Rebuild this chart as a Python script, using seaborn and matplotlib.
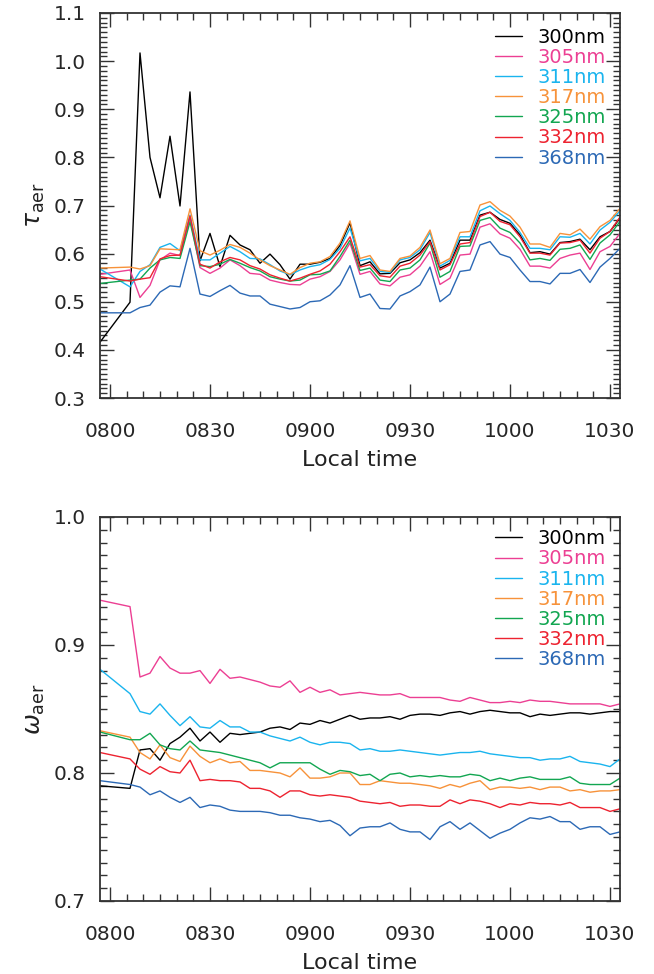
import matplotlib
matplotlib.use("Agg")
import matplotlib.pyplot as plt
import pandas as pd
import seaborn as sns
from matplotlib.ticker import MultipleLocator, FixedLocator, FixedFormatter

# ---------------- data ----------------
times = ["0757", "0806", "0809", "0812", "0815", "0818", "0821", "0824", "0827", "0830",
         "0833", "0836", "0839", "0842", "0845", "0848", "0851", "0854", "0857", "0900",
         "0903", "0906", "0909", "0912", "0915", "0918", "0921", "0924", "0927", "0930",
         "0933", "0936", "0939", "0942", "0945", "0948", "0951", "0954", "0957", "1000",
         "1003", "1006", "1009", "1012", "1015", "1018", "1021", "1024", "1027", "1030",
         "1033"]

wavelengths = ["300nm", "305nm", "311nm", "317nm", "325nm", "332nm", "368nm"]
colors = ["#000000", "#EC3F93", "#1AB4EE", "#F7923A", "#12A651", "#ED2330", "#2C69B5"]

x_tick_labels = ["0800", "0830", "0900", "0930", "1000", "1030"]
tau_tick_labels = ["0.3", "0.4", "0.5", "0.6", "0.7", "0.8", "0.9", "1.0", "1.1"]
omega_tick_labels = ["0.7", "0.8", "0.9", "1.0"]

# aerosol optical depth (top panel)
tau_300 = [0.416, 0.499, 1.017, 0.800, 0.716, 0.844, 0.699, 0.936, 0.585, 0.642, 0.573,
           0.638, 0.618, 0.608, 0.580, 0.599, 0.577, 0.547, 0.578, 0.578, 0.582, 0.590,
           0.617, 0.664, 0.575, 0.583, 0.558, 0.559, 0.581, 0.587, 0.602, 0.628, 0.570,
           0.580, 0.628, 0.628, 0.680, 0.686, 0.671, 0.663, 0.639, 0.602, 0.604, 0.599,
           0.623, 0.625, 0.630, 0.608, 0.635, 0.646, 0.674]
tau_305 = [0.557, 0.566, 0.509, 0.534, 0.587, 0.601, 0.596, 0.674, 0.571, 0.559, 0.570,
           0.587, 0.575, 0.559, 0.557, 0.545, 0.540, 0.536, 0.535, 0.547, 0.552, 0.563,
           0.587, 0.622, 0.557, 0.563, 0.537, 0.533, 0.551, 0.556, 0.574, 0.604, 0.536,
           0.549, 0.597, 0.599, 0.655, 0.662, 0.641, 0.632, 0.609, 0.574, 0.574, 0.570,
           0.590, 0.597, 0.601, 0.567, 0.604, 0.615, 0.642]
tau_311 = [0.568, 0.531, 0.563, 0.577, 0.613, 0.621, 0.606, 0.680, 0.587, 0.587, 0.601,
           0.615, 0.604, 0.590, 0.589, 0.577, 0.564, 0.556, 0.566, 0.573, 0.577, 0.588,
           0.611, 0.653, 0.585, 0.590, 0.563, 0.561, 0.587, 0.592, 0.608, 0.644, 0.574,
           0.586, 0.635, 0.635, 0.689, 0.699, 0.683, 0.669, 0.644, 0.611, 0.611, 0.608,
           0.635, 0.634, 0.642, 0.620, 0.649, 0.665, 0.689]
tau_317 = [0.570, 0.572, 0.568, 0.575, 0.610, 0.609, 0.608, 0.693, 0.606, 0.597, 0.607,
           0.619, 0.613, 0.601, 0.587, 0.575, 0.566, 0.557, 0.571, 0.580, 0.583, 0.594,
           0.622, 0.668, 0.590, 0.596, 0.566, 0.563, 0.590, 0.595, 0.613, 0.649, 0.579,
           0.590, 0.644, 0.646, 0.701, 0.708, 0.690, 0.678, 0.655, 0.620, 0.620, 0.613,
           0.642, 0.639, 0.651, 0.630, 0.656, 0.669, 0.694]
tau_325 = [0.538, 0.545, 0.547, 0.570, 0.587, 0.592, 0.590, 0.666, 0.575, 0.573, 0.578,
           0.588, 0.580, 0.571, 0.564, 0.552, 0.547, 0.543, 0.545, 0.556, 0.557, 0.564,
           0.594, 0.628, 0.565, 0.570, 0.545, 0.542, 0.566, 0.570, 0.587, 0.622, 0.551,
           0.563, 0.615, 0.616, 0.669, 0.675, 0.653, 0.644, 0.622, 0.587, 0.590, 0.586,
           0.609, 0.611, 0.618, 0.588, 0.622, 0.639, 0.667]
tau_332 = [0.552, 0.543, 0.547, 0.550, 0.589, 0.596, 0.597, 0.678, 0.578, 0.570, 0.583,
           0.592, 0.587, 0.575, 0.568, 0.556, 0.549, 0.543, 0.549, 0.557, 0.564, 0.578,
           0.604, 0.635, 0.572, 0.577, 0.554, 0.551, 0.574, 0.580, 0.597, 0.625, 0.566,
           0.577, 0.620, 0.623, 0.677, 0.686, 0.667, 0.660, 0.635, 0.601, 0.601, 0.597,
           0.622, 0.623, 0.628, 0.601, 0.632, 0.646, 0.676]
tau_368 = [0.477, 0.477, 0.488, 0.493, 0.520, 0.533, 0.531, 0.611, 0.516, 0.511, 0.523,
           0.534, 0.518, 0.512, 0.512, 0.495, 0.490, 0.485, 0.488, 0.500, 0.502, 0.514,
           0.535, 0.575, 0.509, 0.516, 0.486, 0.485, 0.512, 0.521, 0.535, 0.572, 0.500,
           0.516, 0.563, 0.566, 0.618, 0.625, 0.599, 0.592, 0.566, 0.542, 0.542, 0.537,
           0.559, 0.559, 0.567, 0.540, 0.572, 0.590, 0.611]

# single scattering albedo (bottom panel)
omega_300 = [0.790, 0.788, 0.818, 0.819, 0.810, 0.823, 0.828, 0.835, 0.825, 0.832, 0.824,
             0.831, 0.830, 0.831, 0.832, 0.835, 0.836, 0.834, 0.839, 0.838, 0.841, 0.839,
             0.842, 0.845, 0.842, 0.843, 0.843, 0.844, 0.842, 0.845, 0.846, 0.846, 0.845,
             0.847, 0.848, 0.846, 0.848, 0.849, 0.848, 0.847, 0.847, 0.844, 0.846, 0.845,
             0.846, 0.847, 0.847, 0.846, 0.847, 0.848, 0.848]
omega_305 = [0.935, 0.930, 0.875, 0.878, 0.891, 0.882, 0.878, 0.878, 0.880, 0.870, 0.881,
             0.874, 0.875, 0.873, 0.871, 0.868, 0.867, 0.872, 0.863, 0.867, 0.863, 0.865,
             0.861, 0.862, 0.863, 0.862, 0.861, 0.861, 0.862, 0.859, 0.859, 0.859, 0.859,
             0.857, 0.856, 0.859, 0.857, 0.855, 0.855, 0.856, 0.855, 0.857, 0.856, 0.856,
             0.855, 0.854, 0.854, 0.854, 0.854, 0.852, 0.854]
omega_311 = [0.881, 0.862, 0.848, 0.846, 0.854, 0.845, 0.837, 0.844, 0.836, 0.835, 0.841,
             0.836, 0.836, 0.832, 0.832, 0.829, 0.827, 0.825, 0.828, 0.824, 0.822, 0.824,
             0.824, 0.823, 0.818, 0.819, 0.817, 0.817, 0.818, 0.817, 0.816, 0.815, 0.814,
             0.815, 0.816, 0.816, 0.817, 0.815, 0.814, 0.813, 0.812, 0.812, 0.810, 0.811,
             0.811, 0.813, 0.809, 0.808, 0.807, 0.805, 0.811]
omega_317 = [0.833, 0.828, 0.816, 0.811, 0.822, 0.812, 0.809, 0.821, 0.813, 0.808, 0.811,
             0.808, 0.809, 0.802, 0.802, 0.801, 0.800, 0.797, 0.804, 0.796, 0.796, 0.797,
             0.800, 0.800, 0.791, 0.791, 0.794, 0.793, 0.792, 0.792, 0.791, 0.790, 0.788,
             0.791, 0.789, 0.792, 0.794, 0.787, 0.789, 0.789, 0.788, 0.789, 0.787, 0.789,
             0.789, 0.786, 0.787, 0.785, 0.786, 0.786, 0.787]
omega_325 = [0.832, 0.826, 0.826, 0.831, 0.822, 0.819, 0.818, 0.825, 0.818, 0.817, 0.816,
             0.814, 0.812, 0.810, 0.808, 0.804, 0.808, 0.808, 0.808, 0.808, 0.803, 0.799,
             0.802, 0.801, 0.798, 0.799, 0.794, 0.799, 0.800, 0.797, 0.798, 0.797, 0.798,
             0.797, 0.797, 0.799, 0.798, 0.794, 0.796, 0.794, 0.796, 0.797, 0.795, 0.795,
             0.795, 0.797, 0.792, 0.791, 0.791, 0.791, 0.796]
omega_332 = [0.816, 0.811, 0.803, 0.799, 0.805, 0.801, 0.800, 0.810, 0.794, 0.795, 0.794,
             0.794, 0.793, 0.788, 0.788, 0.786, 0.781, 0.786, 0.786, 0.783, 0.782, 0.783,
             0.782, 0.781, 0.778, 0.777, 0.776, 0.777, 0.774, 0.775, 0.775, 0.774, 0.774,
             0.779, 0.776, 0.779, 0.778, 0.776, 0.773, 0.776, 0.775, 0.777, 0.776, 0.776,
             0.775, 0.777, 0.773, 0.773, 0.773, 0.770, 0.772]
omega_368 = [0.794, 0.791, 0.789, 0.783, 0.786, 0.781, 0.777, 0.781, 0.773, 0.775, 0.774,
             0.771, 0.770, 0.770, 0.770, 0.769, 0.767, 0.767, 0.765, 0.764, 0.762, 0.763,
             0.759, 0.751, 0.757, 0.758, 0.758, 0.761, 0.756, 0.754, 0.754, 0.748, 0.758,
             0.762, 0.756, 0.761, 0.755, 0.749, 0.753, 0.756, 0.761, 0.765, 0.764, 0.766,
             0.762, 0.762, 0.756, 0.758, 0.758, 0.752, 0.754]

# ---------------- helpers ----------------
def to_minutes(s):
    return int(s[:2]) * 60 + int(s[2:]) - 8 * 60

minutes = [to_minutes(s) for s in times]
tick_minutes = [to_minutes(s) for s in x_tick_labels]

def long_frame(series):
    wide = pd.DataFrame(dict(zip(wavelengths, series)))
    wide["minutes"] = minutes
    return wide.melt(id_vars="minutes", var_name="wavelength", value_name="value")

tau_df = long_frame([tau_300, tau_305, tau_311, tau_317, tau_325, tau_332, tau_368])
omega_df = long_frame([omega_300, omega_305, omega_311, omega_317, omega_325, omega_332, omega_368])
palette = dict(zip(wavelengths, colors))

# ---------------- figure ----------------
sns.set_style("ticks")
plt.rcParams["font.family"] = ["DejaVu Sans"]
plt.rcParams["mathtext.fontset"] = "dejavusans"

W, H = 654, 974
fig = plt.figure(figsize=(W / 100, H / 100), dpi=100)
ax1 = fig.add_axes([100 / W, 1 - 398 / H, 520 / W, 385 / H])
ax2 = fig.add_axes([100 / W, 1 - 901 / H, 520 / W, 384 / H])

TICK_FS = 14.5

def style_axis(ax, df, ylim, yticks, ylabels, ylabel, legend_top):
    sns.lineplot(data=df, x="minutes", y="value", hue="wavelength",
                 hue_order=wavelengths, palette=palette, linewidth=1.0,
                 ax=ax, legend=True, estimator=None)
    leg = ax.get_legend()
    handles = leg.legend_handles
    labels = [t.get_text() for t in leg.get_texts()]
    leg.remove()
    ax.legend(handles, labels, loc="upper right", bbox_to_anchor=(0.972, legend_top),
              frameon=False, fontsize=14, labelcolor="linecolor",
              handlelength=1.4, handletextpad=0.75, labelspacing=0.06,
              borderpad=0, borderaxespad=0)
    for h in ax.get_legend().legend_handles:
        h.set_linewidth(1.0)

    ax.set_xlim(-3, 153)
    ax.set_ylim(*ylim)
    ax.xaxis.set_major_locator(FixedLocator(tick_minutes))
    ax.xaxis.set_major_formatter(FixedFormatter(x_tick_labels))
    ax.xaxis.set_minor_locator(MultipleLocator(5))
    ax.yaxis.set_major_locator(FixedLocator(yticks))
    ax.yaxis.set_major_formatter(FixedFormatter(ylabels))
    ax.yaxis.set_minor_locator(MultipleLocator(0.01))
    ax.tick_params(which="both", direction="in", top=True, right=True,
                   color="#333333", width=1.0)
    ax.tick_params(which="major", length=10)
    ax.tick_params(which="minor", length=5)
    ax.tick_params(axis="x", which="major", labelsize=TICK_FS, pad=17)
    ax.tick_params(axis="y", which="major", labelsize=TICK_FS, pad=10)
    for sp in ax.spines.values():
        sp.set_linewidth(1.3)
        sp.set_color("#333333")
    ax.set_xlabel("Local time", fontsize=16, labelpad=7, color="#222222")
    ax.set_ylabel(ylabel, fontsize=18, labelpad=5, color="#222222")

style_axis(ax1, tau_df, (0.3, 1.1), [0.3, 0.4, 0.5, 0.6, 0.7, 0.8, 0.9, 1.0, 1.1],
           tau_tick_labels, r"$\tau_{\rm aer}$", 0.962)
style_axis(ax2, omega_df, (0.7, 1.0), [0.7, 0.8, 0.9, 1.0],
           omega_tick_labels, r"$\omega_{\rm aer}$", 0.968)

fig.savefig("out.png", dpi=100)
